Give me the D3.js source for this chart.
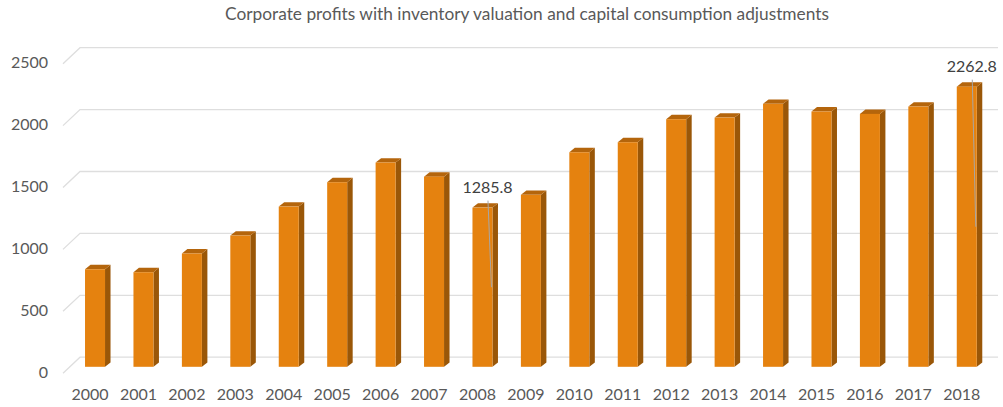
<!DOCTYPE html>
<html>
<head>
<meta charset="utf-8">
<script src="https://cdn.jsdelivr.net/npm/d3@7"></script>
<style>
  html, body { margin: 0; padding: 0; background: #ffffff; }
  svg { display: block; font-family: Lato, "Open Sans", sans-serif; }
</style>
</head>
<body>
<svg id="chart" width="1003" height="407"></svg>
<script>
const title = "Corporate profits with inventory valuation and capital consumption adjustments";
const years = ["2000","2001","2002","2003","2004","2005","2006","2007","2008","2009",
               "2010","2011","2012","2013","2014","2015","2016","2017","2018"];
const profits = [788, 764, 915, 1060, 1294, 1491, 1650, 1536, 1285.8, 1389,
                 1733, 1814, 2000, 2013, 2124, 2062, 2043, 2102, 2262.8];
const yTicks = [0, 500, 1000, 1500, 2000, 2500];
const labelledYears = ["2008", "2018"];

const svg = d3.select("#chart");

// scales (front plane of bars)
const y = d3.scaleLinear().domain([0, 2500]).range([366.8, 57.3]);
const x = d3.scaleBand().domain(years).range([70.5, 991.3]).paddingInner(0.587).paddingOuter(0.3);

const backDy = -9.6;      // back wall offset from bar front plane
const wallDx = 17, wallDy = 16; // side wall slant
const gridRight = 998, gridLeft = 80;
const depthDx = 5.5, depthDy = -4.4;

// gridlines (back wall + side wall slant)
const grid = svg.append("g");
yTicks.forEach(t => {
  const yb = y(t) + backDy;
  grid.append("path")
    .attr("d", `M${gridLeft - wallDx},${yb + wallDy}L${gridLeft},${yb}L${gridRight},${yb}`)
    .attr("fill", "none").attr("stroke", "#dedede").attr("stroke-width", 1.3);
});

// y tick labels
svg.append("g").selectAll("text").data(yTicks).join("text")
  .attr("x", 48).attr("y", t => y(t) + backDy + 13.8)
  .attr("text-anchor", "end").attr("dominant-baseline", "central")
  .attr("fill", "#595959").attr("font-size", 16)
  .text(t => t);

// x labels
svg.append("g").selectAll("text").data(years).join("text")
  .attr("x", d => x(d) + x.bandwidth() / 2 - 5).attr("y", 393.5)
  .attr("text-anchor", "middle").attr("dominant-baseline", "central")
  .attr("fill", "#595959").attr("font-size", 16)
  .text(d => d);

// bars (3D columns)
const data = years.map((yr, i) => ({ yr, v: profits[i] }));
const bars = svg.append("g").selectAll("g").data(data).join("g");
const bw = x.bandwidth();
bars.append("path") // side
  .attr("d", d => {
    const x1 = x(d.yr) + bw, yt = y(d.v), yb = y(0);
    return `M${x1},${yt}L${x1 + depthDx},${yt + depthDy}L${x1 + depthDx},${yb + depthDy}L${x1},${yb}Z`;
  })
  .attr("fill", "#9a5708");
bars.append("path") // top
  .attr("d", d => {
    const x0 = x(d.yr), yt = y(d.v);
    return `M${x0},${yt}L${x0 + depthDx},${yt + depthDy}L${x0 + bw + depthDx},${yt + depthDy}L${x0 + bw},${yt}Z`;
  })
  .attr("fill", "#b4650c");
bars.append("rect") // front
  .attr("x", d => x(d.yr)).attr("y", d => y(d.v))
  .attr("width", bw).attr("height", d => y(0) - y(d.v))
  .attr("fill", "#e5820f");

// data labels with leader lines
const lab = data.filter(d => labelledYears.includes(d.yr));
const lg = svg.append("g");
lab.forEach(d => {
  const cx = x(d.yr) + bw / 2 + 5;
  const cy = y(d.v) - 21;
  lg.append("line")
    .attr("x1", cx + 0.5).attr("y1", cy + 14)
    .attr("x2", x(d.yr) + bw - 1).attr("y2", y(d.v / 2))
    .attr("stroke", "#a6a6a6").attr("stroke-width", 1);
  lg.append("text")
    .attr("x", cx).attr("y", cy)
    .attr("text-anchor", "middle").attr("dominant-baseline", "central")
    .attr("fill", "#404040").attr("font-size", 16)
    .text(d3.format(".1f")(d.v));
});

// title, fitted to the reference width
const tt = svg.append("text")
  .attr("x", 527).attr("y", 20)
  .attr("text-anchor", "middle")
  .attr("fill", "#595959").attr("font-size", 16)
  .text(title);
const w = tt.node().getComputedTextLength();
tt.attr("font-size", 16 * 604 / w);
</script>
</body>
</html>
